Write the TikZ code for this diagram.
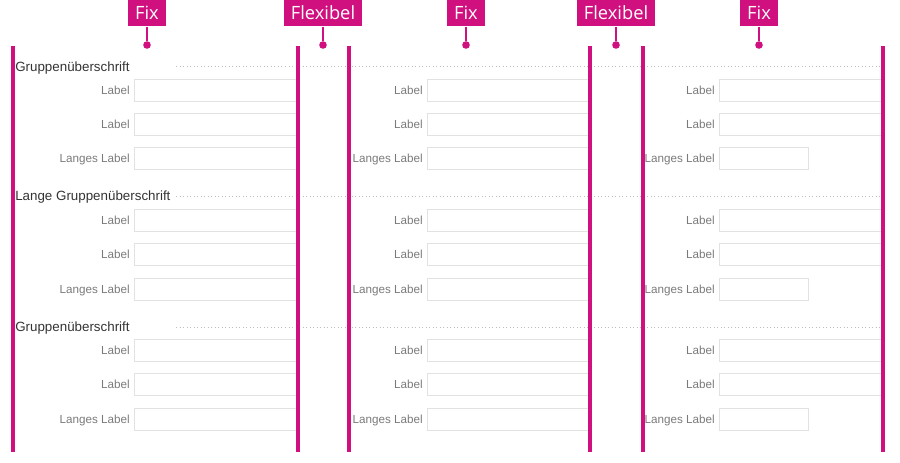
\documentclass[tikz,border=0pt]{standalone}
\usepackage{xcolor}
\usepackage{fontspec}
\setmainfont{Liberation Sans}
\newfontfamily\tagfont{Open Sans}
\usetikzlibrary{positioning}

\definecolor{tmagenta}{HTML}{D1107F}
\definecolor{labelgray}{HTML}{7A7A7A}
\definecolor{boxgray}{HTML}{E2E2E2}
\definecolor{dotgray}{HTML}{BDBDBD}

\begin{document}
\begin{tikzpicture}[x=0.025cm, y=-0.025cm,
    tag/.style={rectangle, fill=tmagenta, text=white, font=\tagfont\fontsize{13}{15}\selectfont, minimum height=0.67cm, inner xsep=0.17cm, inner ysep=0pt},
    pin/.style={circle, fill=tmagenta, inner sep=0pt, minimum size=0.19cm},
    stem/.style={draw=tmagenta, line width=1.6pt},
    guide/.style={draw=tmagenta, line width=2.4pt},
    group/.style={anchor=base west, inner sep=0pt, text=black!80, font=\fontsize{9.5}{11}\selectfont},
    lbl/.style={anchor=base east, inner sep=0pt, text=labelgray, font=\fontsize{8.3}{10}\selectfont},
    field/.style={rectangle, draw=boxgray, line width=0.6pt, anchor=west, minimum height=0.55cm, inner sep=0pt},
    rule/.style={draw=dotgray, dotted, line width=0.5pt}]

    \useasboundingbox (0,0) rectangle (900,462);

    % Fix / Flexibel markers
    \node [tag] (fixa) at (147,13) {Fix};
    \node [tag] (flexa) at (323,13) {Flexibel};
    \node [tag] (fixb) at (466,13) {Fix};
    \node [tag] (flexb) at (616,13) {Flexibel};
    \node [tag] (fixc) at (759,13) {Fix};
    \node [pin] (pinfixa) at (147,45) {};
    \node [pin] (pinflexa) at (323,45) {};
    \node [pin] (pinfixb) at (466,45) {};
    \node [pin] (pinflexb) at (616,45) {};
    \node [pin] (pinfixc) at (759,45) {};
    \path [stem] (fixa) -- (pinfixa);
    \path [stem] (flexa) -- (pinflexa);
    \path [stem] (fixb) -- (pinfixb);
    \path [stem] (flexb) -- (pinflexb);
    \path [stem] (fixc) -- (pinfixc);

    % group headings
    \node [group] (grpa) at (15,71) {Gruppenüberschrift};
    \node [group] (grpb) at (15,200) {Lange Gruppenüberschrift};
    \node [group] (grpc) at (15,331) {Gruppenüberschrift};
    \path [rule] (176,66) -- (883,66);
    \path [rule] (176,196) -- (883,196);
    \path [rule] (176,327) -- (883,327);

    % labels and input fields
    \foreach \c/\o in {a/0, b/293, c/585} {
        \foreach \r/\y/\t/\s in {1/90/Label/0, 2/124/Label/0, 3/158/Langes Label/1,
                                 4/220/Label/0, 5/254/Label/0, 6/289/Langes Label/1,
                                 7/350/Label/0, 8/384/Label/0, 9/419/Langes Label/1} {
            \pgfmathsetmacro{\w}{4.1-(\o>500)*\s*1.875}
            \node [lbl] (lbl\c\r) at (130+\o,\y+4) {\t};
            \node [field, minimum width=\w cm] (fld\c\r) at (134+\o,\y) {};
        }
    }

    % column guides
    \foreach \x in {13,298,349,590,643,883}
        \path [guide] (\x,46) -- (\x,452);
\end{tikzpicture}
\end{document}
